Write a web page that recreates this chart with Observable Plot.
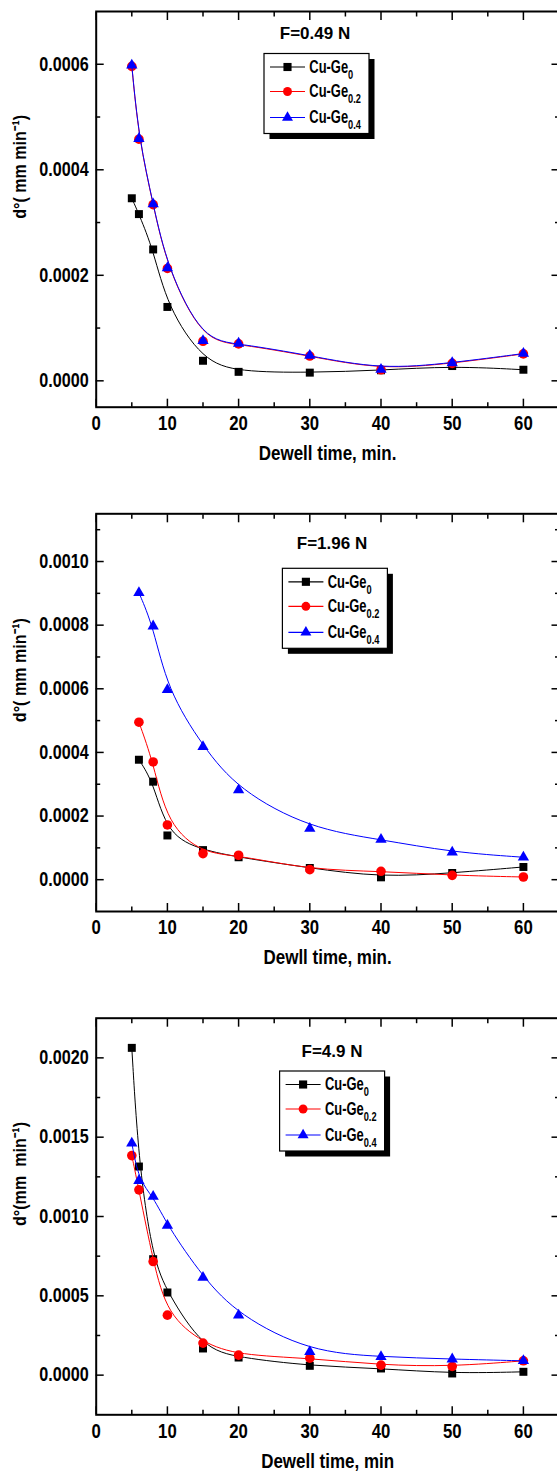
<!DOCTYPE html>
<html><head><meta charset="utf-8">
<script src="https://cdn.jsdelivr.net/npm/d3@7"></script>
<script src="https://cdn.jsdelivr.net/npm/@observablehq/plot@0.6"></script>
<style>
html,body{margin:0;padding:0;background:#fff;overflow:hidden;width:557px;height:1471px}
.panel{position:absolute;left:0;width:557px}
</style></head><body>
<div id="p1" class="panel" style="top:0px"></div>
<div id="p2" class="panel" style="top:480px"></div>
<div id="p3" class="panel" style="top:980px"></div>
<script>
// ---------- data ----------
const seriesNames = ["Cu-Ge|0", "Cu-Ge|0.2", "Cu-Ge|0.4"];
const seriesColors = ["#000000", "#ff0000", "#0000ff"];
const seriesSymbols = ["square", "circle", "triangle"];

// F = 0.49 N
const time049 = [5, 6, 8, 10, 15, 20, 30, 40, 50, 60];
const ge0_049  = [0.000346, 0.000316, 0.000249, 0.000140, 0.000038, 0.000017, 0.0000155, 0.000020, 0.000028, 0.000021];
const ge02_049 = [0.000596, 0.000458, 0.000334, 0.000213, 0.000075, 0.000070, 0.000047, 0.000021, 0.000033, 0.000051];
const ge04_049 = [0.000598, 0.000459, 0.000335, 0.000214, 0.000076, 0.000071, 0.000048, 0.0000215, 0.000034, 0.0000517];

// F = 1.96 N
const time196 = [6, 8, 10, 15, 20, 30, 40, 50, 60];
const ge0_196  = [0.000377, 0.000308, 0.000139, 0.000093, 0.0000705, 0.0000368, 0.0000074, 0.000021, 0.000040];
const ge02_196 = [0.000495, 0.000370, 0.000172, 0.000082, 0.0000768, 0.0000316, 0.0000263, 0.0000137, 0.0000084];
const ge04_196 = [0.000902, 0.000797, 0.000597, 0.000418, 0.000282, 0.000161, 0.000126, 0.0000863, 0.0000705];

// F = 4.9 N
const time49 = [5, 6, 8, 10, 15, 20, 30, 40, 50, 60];
const ge0_49  = [0.002063, 0.001315, 0.000731, 0.000521, 0.000168, 0.000111, 0.0000588, 0.000042, 0.0000105, 0.000021];
const ge02_49 = [0.001384, 0.001168, 0.000716, 0.000378, 0.000202, 0.000126, 0.000107, 0.000063, 0.0000546, 0.0000903];
const ge04_49 = [0.001462, 0.001226, 0.001126, 0.000943, 0.000616, 0.000378, 0.000147, 0.000116, 0.000101, 0.0000903];

// axes
const xMajor = [0, 10, 20, 30, 40, 50, 60];
const xMinor = [5, 15, 25, 35, 45, 55];
const yMajor1 = [0, 0.0002, 0.0004, 0.0006];
const yMinor1 = [0.0001, 0.0003, 0.0005];
const yMajor2 = [0, 0.0002, 0.0004, 0.0006, 0.0008, 0.0010];
const yMinor2 = [0.0001, 0.0003, 0.0005, 0.0007, 0.0009, 0.0011];
const yMajor3 = [0, 0.0005, 0.0010, 0.0015, 0.0020];
const yMinor3 = [0.00025, 0.00075, 0.00125, 0.00175];

const titles = ["F=0.49 N", "F=1.96 N", "F=4.9 N"];
const xLabels = ["Dewell time, min.", "Dewll time, min.", "Dewell time, min"];
const yLabels = ["d°( mm min⁻¹)", "d°( mm min⁻¹)", "d°(mm  min⁻¹)"];

// ---------- drawing ----------
function rows(t, v) { return t.map((x, i) => ({t: x, v: v[i]})); }

function squeeze(svg, selector, s) {
  svg.querySelectorAll(selector).forEach(el => {
    const x = el.getAttribute("x");
    if (x !== null && !/em/.test(x)) el.setAttribute("x", (+x) / s);
    const tr = el.getAttribute("transform") || "";
    el.setAttribute("transform", (tr + ` scale(${s},1)`).trim());
  });
}

function panel(cfg) {
  const {el, height, mt, mb, ydomain, yMajor, yMinor, time, values, title, titleX, titleY, legendX, legendY, xLabel, yLabel} = cfg;
  const marks = [];
  // ticks (inward)
  for (const a of ["bottom", "top"]) {
    marks.push(Plot.axisX(xMajor, {anchor: a, tickSize: -8, strokeWidth: 1.5, tickFormat: () => "", label: null}));
    marks.push(Plot.axisX(xMinor, {anchor: a, tickSize: -4.5, strokeWidth: 1.5, tickFormat: () => "", label: null}));
  }
  for (const a of ["left", "right"]) {
    marks.push(Plot.axisY(yMajor, {anchor: a, tickSize: -8, strokeWidth: 1.5, tickFormat: () => "", label: null}));
    marks.push(Plot.axisY(yMinor, {anchor: a, tickSize: -4.5, strokeWidth: 1.5, tickFormat: () => "", label: null}));
  }
  // tick labels
  marks.push(Plot.axisX(xMajor, {anchor: "bottom", tickSize: 0, tickPadding: 9, tickFormat: d => String(d), label: null}));
  marks.push(Plot.axisY(yMajor, {anchor: "left", tickSize: 0, tickPadding: 7.5, tickFormat: d3.format(".4f"), label: null}));
  // axis titles
  marks.push(Plot.text([xLabel], {frameAnchor: "bottom", text: d => d, dy: 46.6, lineAnchor: "middle", fontSize: 19.5, fontWeight: "bold"}));
  marks.push(Plot.text([yLabel], {frameAnchor: "left", text: d => d, rotate: -90, dx: -76, dy: 9.5, lineAnchor: "middle", fontSize: 18.5, fontWeight: "bold"}));
  // series
  values.forEach((v, i) => {
    const data = rows(time, v);
    marks.push(Plot.line(data, {x: "t", y: "v", stroke: seriesColors[i], strokeWidth: 1, curve: "basis"}));
    const r = seriesSymbols[i] === "square" ? 4.5 : seriesSymbols[i] === "circle" ? 4.8 : 4.2;
    marks.push(Plot.dot(data, {x: "t", y: "v", symbol: () => seriesSymbols[i], r, fill: seriesColors[i], stroke: "none"}));
  });
  marks.push(Plot.frame({stroke: "#000", strokeWidth: 2}));

  const chart = Plot.plot({
    width: 557, height,
    marginLeft: 95.7, marginRight: -1.5, marginTop: mt, marginBottom: mb,
    style: {fontFamily: "'Liberation Sans', Arial, sans-serif", fontWeight: "bold", fontSize: "19.5px", color: "#000", background: "#fff", overflow: "visible"},
    x: {domain: [0, 65]},
    y: {domain: ydomain},
    symbol: {type: "identity"},
    marks
  });
  document.getElementById(el).appendChild(chart);
  const svg = chart;
  squeeze(svg, 'g[aria-label="x-axis tick label"] text', 0.86);
  squeeze(svg, 'g[aria-label="y-axis tick label"] text', 0.83);
  squeeze(svg, 'g[aria-label="text"] text', 0.87);

  const s = d3.select(svg);
  // title
  s.append("text").attr("x", titleX).attr("y", titleY).attr("text-anchor", "middle")
    .attr("font-size", 17).attr("font-weight", "bold").attr("fill", "#000").text(title);
  // legend
  const g = s.append("g").attr("transform", `translate(${legendX},${legendY})`);
  const W = 105, H = 80;
  g.append("rect").attr("x", 5.5).attr("y", 5.5).attr("width", W).attr("height", H).attr("fill", "#000");
  g.append("rect").attr("x", 0).attr("y", 0).attr("width", W).attr("height", H).attr("fill", "#fff").attr("stroke", "#000").attr("stroke-width", 1.2);
  const rowY = [13.5, 38, 64];
  seriesNames.forEach((name, i) => {
    const y = rowY[i];
    g.append("line").attr("x1", 6).attr("x2", 41).attr("y1", y).attr("y2", y).attr("stroke", seriesColors[i]).attr("stroke-width", 1.2);
    const sym = seriesSymbols[i] === "square" ? d3.symbolSquare : seriesSymbols[i] === "circle" ? d3.symbolCircle : d3.symbolTriangle;
    const size = seriesSymbols[i] === "square" ? 66 : seriesSymbols[i] === "circle" ? 62 : 52;
    g.append("path").attr("d", d3.symbol(sym, size)()).attr("transform", `translate(23.5,${y})`).attr("fill", seriesColors[i]);
    const [main, sub] = name.split("|");
    const t = g.append("text").attr("transform", `translate(45.3,${y + 5.8}) scale(0.74,1)`)
      .attr("text-anchor", "start")
      .attr("font-size", 17.5).attr("font-weight", "bold").attr("fill", "#000");
    t.append("tspan").text(main);
    t.append("tspan").attr("font-size", 12.5).attr("dy", 6).text(sub);
  });
}

panel({el: "p1", height: 480, mt: 11, mb: 73.3, ydomain: [-0.00005, 0.0007], yMajor: yMajor1, yMinor: yMinor1,
  time: time049, values: [ge0_049, ge02_049, ge04_049], title: titles[0], titleX: 315, titleY: 39.3,
  legendX: 264, legendY: 53.5, xLabel: xLabels[0], yLabel: yLabels[0]});
panel({el: "p2", height: 500, mt: 33.3, mb: 69, ydomain: [-0.0001, 0.00115], yMajor: yMajor2, yMinor: yMinor2,
  time: time196, values: [ge0_196, ge02_196, ge04_196], title: titles[1], titleX: 332, titleY: 69.3,
  legendX: 282.4, legendY: 88.3, xLabel: xLabels[1], yLabel: yLabels[1]});
panel({el: "p3", height: 491, mt: 37.7, mb: 56.7, ydomain: [-0.00025, 0.00225], yMajor: yMajor3, yMinor: yMinor3,
  time: time49, values: [ge0_49, ge02_49, ge04_49], title: titles[2], titleX: 332, titleY: 76.7,
  legendX: 279.6, legendY: 91, xLabel: xLabels[2], yLabel: yLabels[2]});
</script>
</body></html>
